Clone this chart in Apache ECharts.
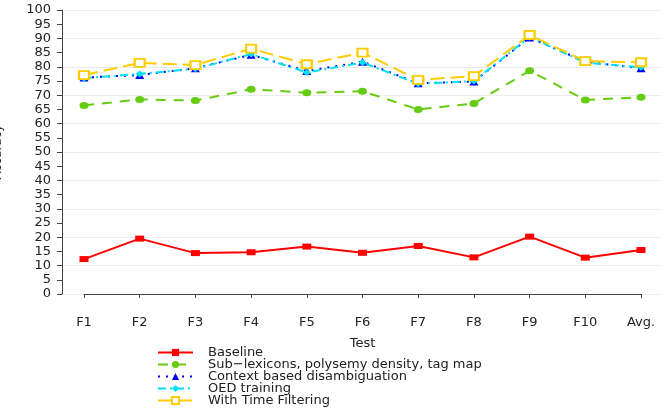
<!DOCTYPE html>
<html>
<head>
<meta charset="utf-8">
<script src="https://cdn.jsdelivr.net/npm/echarts@6/dist/echarts.min.js"></script>
<style>html,body{margin:0;padding:0;background:#fff}#c{width:665px;height:416px}</style>
</head>
<body>
<div id="c"></div>
<script>
var categories = ['F1','F2','F3','F4','F5','F6','F7','F8','F9','F10','Avg.'];
var baseline = [12.3, 19.5, 14.4, 14.7, 16.7, 14.5, 16.9, 12.9, 20.2, 12.8, 15.5];
var subLexicons = [66.4, 68.5, 68.1, 72.1, 70.9, 71.4, 65.0, 67.1, 78.6, 68.3, 69.3];
var contextBased = [76.2, 77.1, 79.5, 84.2, 78.5, 81.8, 74.2, 74.8, 90.3, 81.8, 79.5];
var oedTraining = [76.0, 77.5, 79.3, 84.5, 78.0, 81.5, 74.0, 75.0, 90.5, 81.5, 79.8];
var timeFiltering = [77.1, 81.4, 80.6, 86.4, 80.9, 85.0, 75.4, 76.7, 91.2, 82.0, 81.6];
var seriesNames = ['Baseline','Sub\u2212lexicons, polysemy density, tag map','Context based disambiguation','OED training','With Time Filtering'];

var font = 'DejaVu Sans';
var chart = echarts.init(document.getElementById('c'), null, {renderer:'canvas'});
function s(name, data, color, type, symbol, size, extra) {
  var o = {
    name: name, type: 'line', data: data, xAxisIndex: 1, yAxisIndex: 2,
    symbol: symbol, symbolSize: size, showSymbol: true,
    lineStyle: {color: color, width: 2, type: type},
    itemStyle: {color: color, borderColor: color, borderWidth: 0},
    emphasis: {disabled: true}, animation: false
  };
  if (extra) { for (var k in extra) o[k] = extra[k]; }
  return o;
}
var legends = seriesNames.map(function (n, i) {
  return {
    orient: 'vertical', left: 157, top: 346 + 12 * i, itemWidth: 35, itemHeight: 9, itemGap: 0,
    padding: 0, data: [n], selectedMode: false,
    textStyle: {fontSize: 13, color: '#222', fontFamily: font, padding: [0, 0, 0, 10]}
  };
});
var option = {
  animation: false,
  textStyle: {fontFamily: font},
  grid: [
    {left: 62, right: 4, top: 10, bottom: 122, containLabel: false, outerBoundsMode: 'none'},
    {left: 84, right: 24, top: 10, bottom: 122, containLabel: false, outerBoundsMode: 'none'}
  ],
  xAxis: [
    {gridIndex: 0, type: 'value', min: 0, max: 1, show: false},
    {gridIndex: 1, type: 'category', data: categories, boundaryGap: false, offset: 11,
     axisLine: {lineStyle: {color: '#444', width: 1}},
     axisTick: {show: true, length: 4, lineStyle: {color: '#444'}},
     axisLabel: {margin: 11, fontSize: 13, color: '#222', fontFamily: font},
     splitLine: {show: false},
     name: 'Test', nameLocation: 'middle', nameGap: 32,
     nameTextStyle: {fontSize: 13, color: '#222', fontFamily: font}}
  ],
  yAxis: [
    {gridIndex: 0, type: 'value', min: 0, max: 100, interval: 5,
     axisLine: {show: true, lineStyle: {color: '#444', width: 1}},
     axisTick: {show: true, length: 5, lineStyle: {color: '#444'}},
     axisLabel: {margin: 11, fontSize: 13, color: '#222', fontFamily: font},
     splitLine: {show: false},
     name: 'Accuracy', nameLocation: 'middle', nameGap: 58, nameRotate: 90,
     nameTextStyle: {fontSize: 12, color: '#222', fontFamily: font}},
    {gridIndex: 0, type: 'value', min: 0, max: 100, interval: 10, position: 'left',
     axisLine: {show: false}, axisTick: {show: false}, axisLabel: {show: false},
     splitLine: {show: true, lineStyle: {color: '#ececec', width: 1}}},
    {gridIndex: 1, type: 'value', min: 0, max: 100, show: false, splitLine: {show: false}}
  ],
  legend: legends,
  series: [
    s(seriesNames[0], baseline, '#ff0000', 'solid', 'rect', [9, 6]),
    s(seriesNames[1], subLexicons, '#66cc11', [10, 8], 'circle', [9, 7]),
    s(seriesNames[2], contextBased, '#0000ff', [2, 6], 'triangle', [9, 8]),
    s(seriesNames[3], oedTraining, '#00e0f0', [8, 4, 2, 4], 'diamond', [8, 7]),
    s(seriesNames[4], timeFiltering, '#ffcc00', [14, 6], 'rect', [10, 8],
      {itemStyle: {color: '#ffffff', borderColor: '#ffcc00', borderWidth: 2}})
  ]
};
chart.setOption(option);
</script>
</body>
</html>
